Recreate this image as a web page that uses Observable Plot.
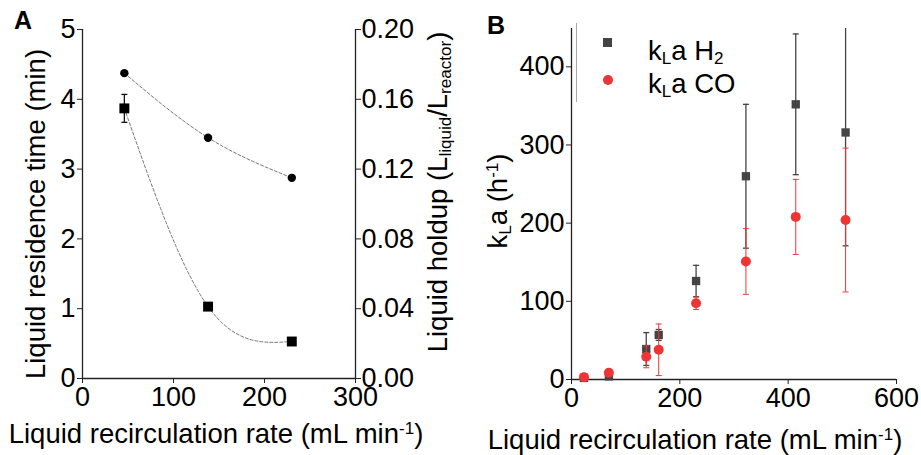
<!DOCTYPE html>
<html>
<head>
<meta charset="utf-8">
<script src="https://cdn.jsdelivr.net/npm/d3@7"></script>
<script src="https://cdn.jsdelivr.net/npm/@observablehq/plot@0.6"></script>
<style>
  html, body { margin: 0; padding: 0; background: #fff; }
  #wrap { position: relative; width: 921px; height: 455px; overflow: hidden;
          font-family: "Liberation Sans", Arial, sans-serif; color: #000; }
  .panel { position: absolute; top: 0; }
  .lbl { position: absolute; white-space: nowrap; font-size: 27.5px; line-height: 28px; }
  .rot { transform: translate(-50%, -50%) rotate(-90deg); }
  .lbl sup, .lbl sub { font-size: 0.62em; line-height: 0; }
  .lbl sup { vertical-align: 0.55em; }
  .lbl sub { vertical-align: -0.25em; }
  .tag { position: absolute; font-weight: bold; font-size: 25px; line-height: 25px; }
</style>
</head>
<body>
<div id="wrap">
  <div id="panelA" class="panel" style="left:0"></div>
  <div id="panelB" class="panel" style="left:460px"></div>

  <div class="tag" style="left:14px; top:8px;">A</div>
  <div class="tag" style="left:487px; top:13px;">B</div>

  <div class="lbl" style="left:0; width:432px; text-align:center; top:420px;">Liquid recirculation rate (mL min<sup>-1</sup>)</div>
  <div class="lbl" style="left:464px; width:462px; text-align:center; top:426px;">Liquid recirculation rate (mL min<sup>-1</sup>)</div>

  <div class="lbl rot" style="left:36px; top:214px;">Liquid residence time (min)</div>
  <div class="lbl rot" style="left:438px; top:192px;">Liquid holdup (L<sub>liquid</sub>/L<sub>reactor</sub>)</div>
  <div class="lbl rot" style="left:498px; top:201px;">k<sub>L</sub>a (h<sup>-1</sup>)</div>

  <!-- legend of panel B -->
  <div style="position:absolute; left:576px; top:23px; width:0; height:79px; border-left:1px solid #aaa;"></div>
  <div style="position:absolute; left:603px; top:38px; width:9px; height:9px; background:#444;"></div>
  <div style="position:absolute; left:603px; top:75px; width:10px; height:10px; border-radius:50%; background:#ee3535;"></div>
  <div class="lbl" style="left:648px; top:37px;">k<sub>L</sub>a H<sub>2</sub></div>
  <div class="lbl" style="left:648px; top:70px;">k<sub>L</sub>a CO</div>
</div>
<script>
// ---------- Panel A data ----------
const rateA = [46, 138, 230];                 // mL/min
const residenceTime = [3.87, 1.03, 0.53];     // min
const residenceErr = [0.2, 0.03, 0.02];
const liquidHoldup = [0.175, 0.138, 0.115];   // L liquid / L reactor
const xTicksA = [0, 100, 200, 300];
const yTicksA = [0, 1, 2, 3, 4, 5];
const holdupTicks = [0, 0.04, 0.08, 0.12, 0.16, 0.20];

// ---------- Panel B data ----------
const rateB = [23, 69, 138, 161, 230, 322, 414, 506];
const kLaH2 = [2, 4, 39, 57, 126, 260, 352, 316];
const kLaH2Err = [1, 2, 21, 7, 20, 92, 90, 145];
const kLaCO = [3, 8.5, 29, 38, 97.5, 151, 208, 204];
const kLaCOErr = [1, 2, 14, 33, 8, 42, 48, 92];
const xTicksB = [0, 200, 400, 600];
const yTicksB = [0, 100, 200, 300, 400];

const HOLDUP_MAX = 0.20, TIME_MAX = 5;
const k = TIME_MAX / HOLDUP_MAX; // right axis mapping onto left-axis units

const font = '"Liberation Sans", Arial, sans-serif';
const tickFont = "27px";
const cap = { draw(ctx) { ctx.moveTo(-3, 0); ctx.lineTo(3, 0); } };

const A = rateA.map((x, i) => ({ x, t: residenceTime[i], e: residenceErr[i], h: liquidHoldup[i] }));

const plotA = Plot.plot({
  width: 460, height: 455,
  marginLeft: 82, marginRight: 105, marginTop: 29, marginBottom: 77,
  style: { fontFamily: font, fontSize: tickFont, color: "#000", background: "transparent", overflow: "visible" },
  x: { domain: [0, 300] },
  y: { domain: [0, TIME_MAX] },
  marks: [
    Plot.axisX({ ticks: xTicksA, tickFormat: d => String(d), tickSize: 5, tickPadding: 3, label: null, stroke: "#222" }),
    Plot.axisY({ ticks: yTicksA, tickFormat: d => String(d), tickSize: 5, tickPadding: 2, label: null, stroke: "#222" }),
    Plot.axisY({ anchor: "right", ticks: holdupTicks.map(t => t * k), tickFormat: d => (d / k).toFixed(2),
                 tickSize: 5, tickPadding: 1, label: null, stroke: "#222" }),
    Plot.ruleX([0], { stroke: "#222", strokeWidth: 1.3 }),
    Plot.ruleX([300], { stroke: "#222", strokeWidth: 1.3 }),
    Plot.ruleY([0], { stroke: "#222", strokeWidth: 1.3 }),
    Plot.line(A, { x: "x", y: "t", curve: "natural", stroke: "#777", strokeWidth: 1, strokeDasharray: "3,2" }),
    Plot.line(A, { x: "x", y: d => d.h * k, curve: "natural", stroke: "#777", strokeWidth: 1, strokeDasharray: "3,2" }),
    Plot.ruleX(A, { x: "x", y1: d => d.t - d.e, y2: d => d.t + d.e, stroke: "#111", strokeWidth: 1.3 }),
    Plot.dot(A, { x: "x", y: d => d.t + d.e, symbol: cap, stroke: "#111", strokeWidth: 1.3, fill: "none" }),
    Plot.dot(A, { x: "x", y: d => d.t - d.e, symbol: cap, stroke: "#111", strokeWidth: 1.3, fill: "none" }),
    Plot.dot(A, { x: "x", y: "t", symbol: "square", r: 5.6, fill: "#000", stroke: "none" }),
    Plot.dot(A, { x: "x", y: d => d.h * k, symbol: "circle", r: 4.2, fill: "#000", stroke: "none" })
  ]
});
document.getElementById("panelA").append(plotA);

const H2 = rateB.map((x, i) => ({ x, y: kLaH2[i], e: kLaH2Err[i] }));
const CO = rateB.map((x, i) => ({ x, y: kLaCO[i], e: kLaCOErr[i] }));
const gray = "#444", red = "#ee3535";

function series(data, color, symbol, r, sw) {
  return [
    Plot.ruleX(data, { x: "x", y1: d => d.y - d.e, y2: d => d.y + d.e, stroke: color, strokeWidth: sw, clip: true }),
    Plot.dot(data, { x: "x", y: d => d.y + d.e, symbol: cap, stroke: color, strokeWidth: sw, fill: "none", clip: true }),
    Plot.dot(data, { x: "x", y: d => d.y - d.e, symbol: cap, stroke: color, strokeWidth: sw, fill: "none", clip: true }),
    Plot.dot(data, { x: "x", y: "y", symbol, r, fill: color, stroke: "none" })
  ];
}

const plotB = Plot.plot({
  width: 461, height: 455,
  marginLeft: 111, marginRight: 25, marginTop: 28, marginBottom: 76,
  style: { fontFamily: font, fontSize: tickFont, color: "#000", background: "transparent", overflow: "visible" },
  x: { domain: [0, 600] },
  y: { domain: [0, 449] },
  marks: [
    Plot.axisX({ ticks: xTicksB, tickFormat: d => String(d), tickSize: 5, tickPadding: 3, label: null, stroke: "#222" }),
    Plot.axisY({ ticks: yTicksB, tickFormat: d => String(d), tickSize: 5, tickPadding: 2, label: null, stroke: "#222" }),
    Plot.ruleX([0], { stroke: "#222", strokeWidth: 1.3 }),
    Plot.ruleY([0], { stroke: "#222", strokeWidth: 1.3 }),
    ...series(H2, gray, "square", 4.7, 1.3),
    ...series(CO, red, "circle", 5, 1)
  ]
});
document.getElementById("panelB").append(plotB);
</script>
</body>
</html>
